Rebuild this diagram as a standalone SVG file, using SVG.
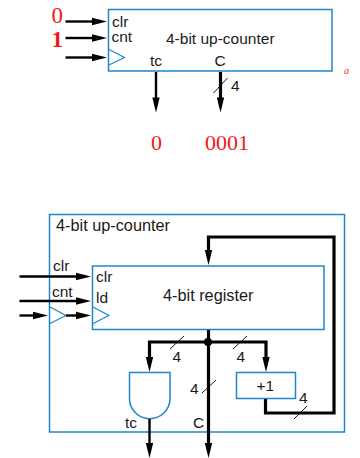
<svg xmlns="http://www.w3.org/2000/svg" width="360" height="458" viewBox="0 0 360 458">
<style>
.box{fill:#fff;stroke:#1f86c8;stroke-width:1.5}
.clk{fill:none;stroke:#1f86c8;stroke-width:1.2}
.t{font-family:"Liberation Sans",Arial,sans-serif;font-size:15.500px;fill:#1a1a1a}
.b{font-size:16.300px}
.r{font-family:"Liberation Serif","Times New Roman",serif;fill:#f01818;font-size:22px}
.w2{fill:none;stroke:#000;stroke-width:2.4}
.w3{fill:none;stroke:#000;stroke-width:3.2}
.s{fill:none;stroke:#000;stroke-width:0.9}
.a{fill:#000}
</style>
<defs>
<polygon id="ar" class="a" points="0,0 -15,-3.700 -15,3.700"/>
<polygon id="ad" class="a" points="0,0 -3.700,-15 3.700,-15"/>
</defs>
<g id="top-counter">
<rect class="box" x="108.500" y="9.500" width="223.500" height="61.500"/>
<polyline class="clk" points="109,49.500 124.500,57.500 109,65"/>
<text class="t" x="112" y="26.500">clr</text>
<text class="t" x="111.500" y="42">cnt</text>
<text class="t" x="166" y="44">4-bit up-counter</text>
<text class="t" x="150" y="66">tc</text>
<text class="t" x="214.500" y="66">C</text>
</g>
<g id="top-values">
<text class="r" x="51.500" y="23" style="font-size:23px">0</text>
<text class="r" x="51.500" y="46.500" style="font-size:23px" font-weight="bold">1</text>
<text class="r" x="151" y="150">0</text>
<text class="r" x="205" y="150">0001</text>
<text class="r" x="344" y="74" style="font-size:10px" font-style="italic">a</text>
</g>
<g id="lower-counter">
<rect class="box" x="49.500" y="214.500" width="295" height="217.500"/>
<text class="t b" x="56" y="231">4-bit up-counter</text>
<polyline class="clk" points="50,307 66,315.500 50,323.500"/>
</g>
<g id="register">
<rect class="box" x="92.500" y="266" width="231.500" height="63.500"/>
<polyline class="clk" points="93,307 109,315.500 93,323.500"/>
<text class="t" x="96" y="281.500">clr</text>
<text class="t" x="96" y="303">ld</text>
<text class="t b" x="163" y="300.500">4-bit register</text>
</g>
<g id="and-gate">
<path class="box" d="M129.500,372.500 H170 V398.500 A20.250,20.250 0 0 1 129.500,398.500 Z"/>
<text class="t" x="125" y="428">tc</text>
</g>
<g id="incrementer">
<rect class="box" x="236.500" y="372.500" width="59" height="26"/>
<text class="t" x="256.500" y="390.500">+1</text>
</g>
<g id="connectors">
<g>
<path class="w2" d="M65.500,21.500 H95"/><use href="#ar" x="107" y="21.500"/>
<path class="w2" d="M65.500,38 H95"/><use href="#ar" x="107" y="38"/>
<path class="w2" d="M65.500,57.500 H95"/><use href="#ar" x="107" y="57.500"/>
<path class="w2" d="M156,72 V100"/><use href="#ad" x="156" y="112.500"/>
<path class="w3" d="M220.500,72 V100"/><use href="#ad" x="220.500" y="112.500"/>
<path class="s" d="M213.500,93 L227.500,78"/>
</g>
<g>
<path class="w2" d="M19.500,276.500 H80"/><use href="#ar" x="91" y="276.500"/>
<path class="w2" d="M19.500,301 H80"/><use href="#ar" x="91" y="301"/>
<path class="w2" d="M19.500,315.500 H38"/><use href="#ar" x="48" y="315.500"/>
<path class="w2" d="M66,315.500 H80"/><use href="#ar" x="91" y="315.500"/>
<path class="w3" d="M208.500,330 V448"/><use href="#ad" x="208.500" y="458"/>
<path class="w3" d="M208.500,342 H149.500 V360"/><use href="#ad" x="149.500" y="372"/>
<path class="w3" d="M208.500,342 H266 V360"/><use href="#ad" x="266" y="372"/>
<circle class="a" cx="208" cy="342" r="4"/>
<path class="w3" d="M265.500,399 V413 H334 V237 H208.500 V254"/><use href="#ad" x="208.500" y="265"/>
<path class="w2" d="M149.500,419 V446"/><use href="#ad" x="149.500" y="458"/>
<path class="s" d="M170,349 L184,336"/>
<path class="s" d="M233,349 L247,336"/>
<path class="s" d="M202,393 L216,380"/>
<path class="s" d="M294,419 L307,406"/>
</g>
</g>
<g id="connector-labels">
<text class="t" x="231" y="91">4</text>
<text class="t" x="53" y="270.500">clr</text>
<text class="t" x="52" y="297">cnt</text>
<text class="t" x="172.500" y="362">4</text>
<text class="t" x="236.500" y="362">4</text>
<text class="t" x="190" y="393.500">4</text>
<text class="t" x="299" y="403">4</text>
<text class="t" x="193" y="428">C</text>
</g>
</svg>
